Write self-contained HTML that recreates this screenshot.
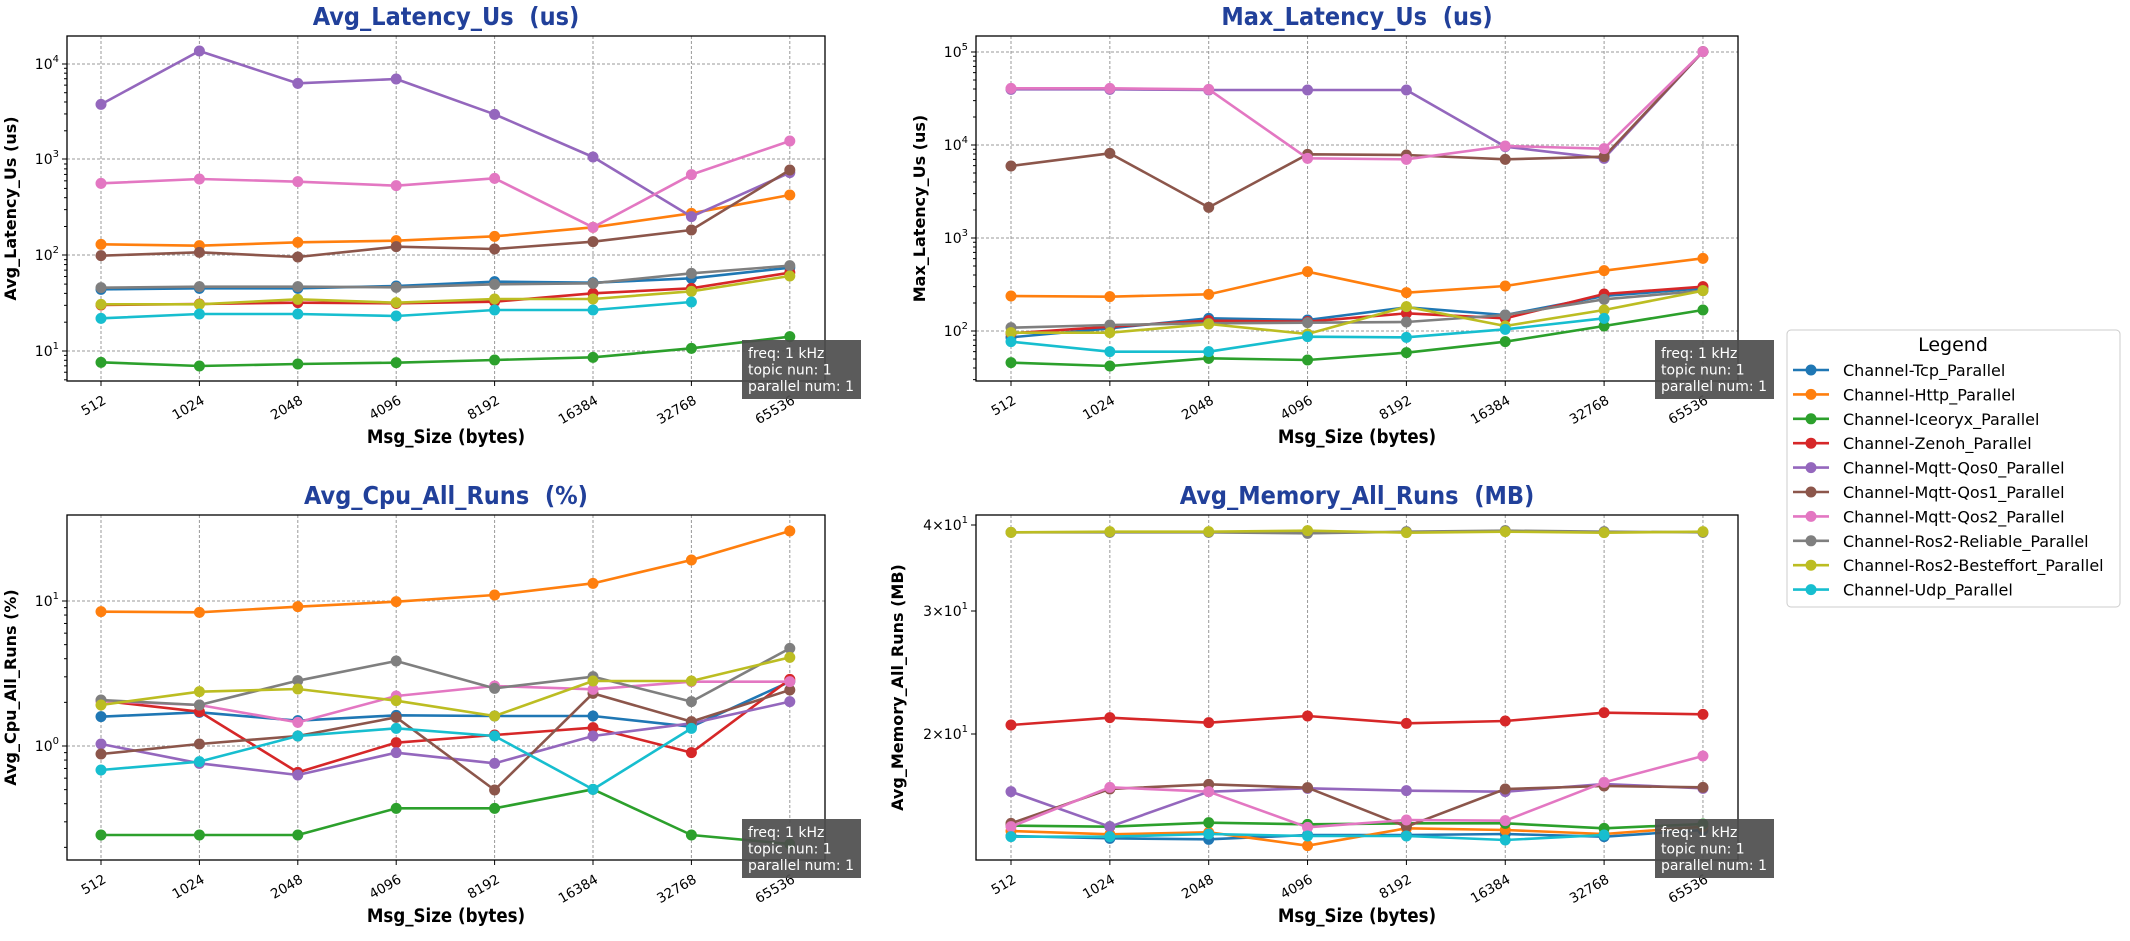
<!DOCTYPE html>
<html><head><meta charset="utf-8"><style>
body{margin:0;background:#fff;}
svg text{font-family:"DejaVu Sans","Liberation Sans",sans-serif;}
</style></head><body>
<svg id="s" width="2130" height="936" xmlns="http://www.w3.org/2000/svg"></svg>
<script>
const C=['#1f77b4','#ff7f0e','#2ca02c','#d62728','#9467bd','#8c564b','#e377c2','#7f7f7f','#bcbd22','#17becf'];
const N=['Channel-Tcp_Parallel','Channel-Http_Parallel','Channel-Iceoryx_Parallel','Channel-Zenoh_Parallel','Channel-Mqtt-Qos0_Parallel','Channel-Mqtt-Qos1_Parallel','Channel-Mqtt-Qos2_Parallel','Channel-Ros2-Reliable_Parallel','Channel-Ros2-Besteffort_Parallel','Channel-Udp_Parallel'];
const XL=['512','1024','2048','4096','8192','16384','32768','65536'];
let h='';
function plot(p){
 const {L,R,T,B,x0,dx,title,ylab,ylx,off,data,majors,minors,hgrid,box}=p;
 h+=`<text x="${(L+R)/2}" y="${T-11}" text-anchor="middle" font-size="25" font-weight="bold" fill="#21409a" style="font-family:'DejaVu Sans Condensed','Liberation Sans Narrow','DejaVu Sans',sans-serif;white-space:pre">${title}</text>`;
 for(let i=0;i<8;i++){const x=x0+i*dx;
  h+=`<line x1="${x}" y1="${T}" x2="${x}" y2="${B}" stroke="#999" stroke-width="1" stroke-dasharray="3,2"/>`;
  h+=`<line x1="${x}" y1="${B}" x2="${x}" y2="${B+5}" stroke="#000"/>`;
  h+=`<text transform="translate(${x+6},${B+22}) rotate(-30)" text-anchor="end" font-size="13.5">${XL[i]}</text>`;}
 for(const m of majors){const y=m[0];
  if(hgrid)h+=`<line x1="${L}" y1="${y}" x2="${R}" y2="${y}" stroke="#999" stroke-width="1" stroke-dasharray="3,2"/>`;
  h+=`<line x1="${L-5}" y1="${y}" x2="${L}" y2="${y}" stroke="#000"/>`;
  h+=`<text x="${L-8}" y="${y+5}" text-anchor="end" font-size="14">${m[1]}</text>`;}
 for(const y of minors){if(y>T&&y<B)h+=`<line x1="${L-3}" y1="${y}" x2="${L}" y2="${y}" stroke="#000"/>`;}
 data.forEach((d,k)=>{let pts=[];d.forEach((v,i)=>{if(v!=null)pts.push([x0+i*dx,v/3+off]);});
  h+=`<polyline points="${pts.map(q=>q.join(',')).join(' ')}" fill="none" stroke="${C[k]}" stroke-width="2.6" stroke-linejoin="round"/>`;
  pts.forEach(q=>h+=`<circle cx="${q[0]}" cy="${q[1]}" r="5.5" fill="${C[k]}"/>`);});
 h+=`<rect x="${L}" y="${T}" width="${R-L}" height="${B-T}" fill="none" stroke="#000" stroke-width="1.3"/>`;
 h+=`<text transform="translate(${ylx},${(T+B)/2}) rotate(-90)" text-anchor="middle" font-size="16" font-weight="bold">${ylab}</text>`;
 h+=`<text x="${(L+R)/2}" y="${B+62}" text-anchor="middle" font-size="18.5" font-weight="bold" style="font-family:'DejaVu Sans Condensed','Liberation Sans Narrow','DejaVu Sans',sans-serif">Msg_Size (bytes)</text>`;
 h+=`<rect x="${box[0]}" y="${box[1]}" width="119" height="59" fill="#4d4d4d" opacity="0.92"/>`;
 ['freq: 1 kHz','topic nun: 1','parallel num: 1'].forEach((t,i)=>h+=`<text x="${box[0]+6}" y="${box[1]+18+i*16.5}" font-size="14" fill="#fff">${t}</text>`);
}
function logMinors(y0,D,lo,hi){let r=[];for(let e=lo;e<=hi;e++)for(let k=2;k<=9;k++)r.push(y0-(e+Math.log10(k))*D);return r;}
const sup=(e)=>`10<tspan dy="-7" font-size="10">${e}</tspan>`;
plot({L:67,R:825,T:36,B:381,x0:101,dx:98.4,off:0,title:'Avg_Latency_Us\u00a0\u00a0(us)',ylab:'Avg_Latency_Us (us)',ylx:16,
 majors:[[64,sup(4)],[159,sup(3)],[255,sup(2)],[351,sup(1)]],hgrid:true,
 minors:logMinors(351+95.7,95.7,0,4),box:[742,340],
 data:[[868,865,865,858,845,848,835,803],[733,737,727,722,709,682,640,585],[1087,1098,1092,1088,1080,1072,1045,1010],[915,912,908,910,905,880,865,818],[313,153,250,237,343,471,650,518],[767,757,771,740,747,725,690,510],[550,537,545,557,535,682,524,423],[863,860,860,862,853,850,820,797],[913,913,898,908,897,897,874,828],[955,942,942,948,930,930,906,null]]});
plot({L:976,R:1738,T:36,B:381,x0:1011,dx:98.85,off:0,title:'Max_Latency_Us\u00a0\u00a0(us)',ylab:'Max_Latency_Us (us)',ylx:925,
 majors:[[52,sup(5)],[145,sup(4)],[238,sup(3)],[331,sup(2)]],hgrid:true,
 minors:logMinors(331+186,93,1,5),box:[1655,340],
 data:[[1012,985,955,960,922,945,888,865],[888,890,883,815,878,858,812,775],[1088,1098,1075,1080,1058,1025,978,930],[1000,980,962,965,940,955,882,860],[268,268,270,270,270,440,475,155],[498,460,622,463,465,478,470,155],[265,265,268,475,478,438,446,155],[983,975,970,968,966,945,898,872],[998,998,972,1002,920,978,930,872],[1025,1055,1055,1010,1012,988,955,null]]});
plot({L:67,R:825,T:515,B:860,x0:101,dx:98.4,off:480,title:'Avg_Cpu_All_Runs\u00a0\u00a0(%)',ylab:'Avg_Cpu_All_Runs (%)',ylx:16,
 majors:[[601,sup(1)],[746,sup(0)]],hgrid:true,
 minors:logMinors(746+145,145,-1,1),box:[742,819],
 data:[[710,697,722,706,708,708,740,605],[395,397,380,365,345,310,240,153],[1065,1065,1065,985,985,928,1065,1092],[662,695,877,788,765,743,818,598],[792,850,885,818,850,768,730,665],[822,792,768,712,930,640,725,630],[663,675,727,648,618,628,605,605],[660,675,602,543,625,590,665,505],[675,635,627,662,708,603,603,532],[870,845,768,745,768,928,745,null]]});
const lab=(m)=>`${m}×10<tspan dy="-7" font-size="10">1</tspan>`;
plot({L:976,R:1738,T:515,B:860,x0:1011,dx:98.85,off:480,title:'Avg_Memory_All_Runs\u00a0\u00a0(MB)',ylab:'Avg_Memory_All_Runs (MB)',ylx:903,
 majors:[[525,lab(4)],[611,lab(3)],[734,lab(2)]],hgrid:false,minors:[],box:[1655,819],
 data:[[1068,1075,1078,1065,1065,1062,1070,1050],[1053,1063,1057,1097,1045,1050,1062,1040],[1037,1040,1028,1033,1030,1030,1045,1032],[735,713,728,708,730,723,698,703],[935,1040,935,925,932,935,912,925],[1030,927,913,923,1040,927,918,922],[1040,922,935,1042,1020,1022,907,828],[157,157,157,160,155,152,155,157],[157,155,155,152,158,155,158,155],[1070,1070,1062,1068,1068,1080,1065,null]]});
h+=`<rect x="1787" y="330" width="333" height="277" rx="4" fill="#fff" stroke="#ccc"/>`;
h+=`<text x="1953" y="351" text-anchor="middle" font-size="19">Legend</text>`;
N.forEach((n,i)=>{const y=370+i*24.4;
 h+=`<line x1="1793" y1="${y}" x2="1829" y2="${y}" stroke="${C[i]}" stroke-width="2.6"/><circle cx="1811" cy="${y}" r="5.5" fill="${C[i]}"/>`;
 h+=`<text x="1843" y="${y+6}" font-size="16">${n}</text>`;});
document.getElementById('s').innerHTML=h;
</script>
</body></html>
